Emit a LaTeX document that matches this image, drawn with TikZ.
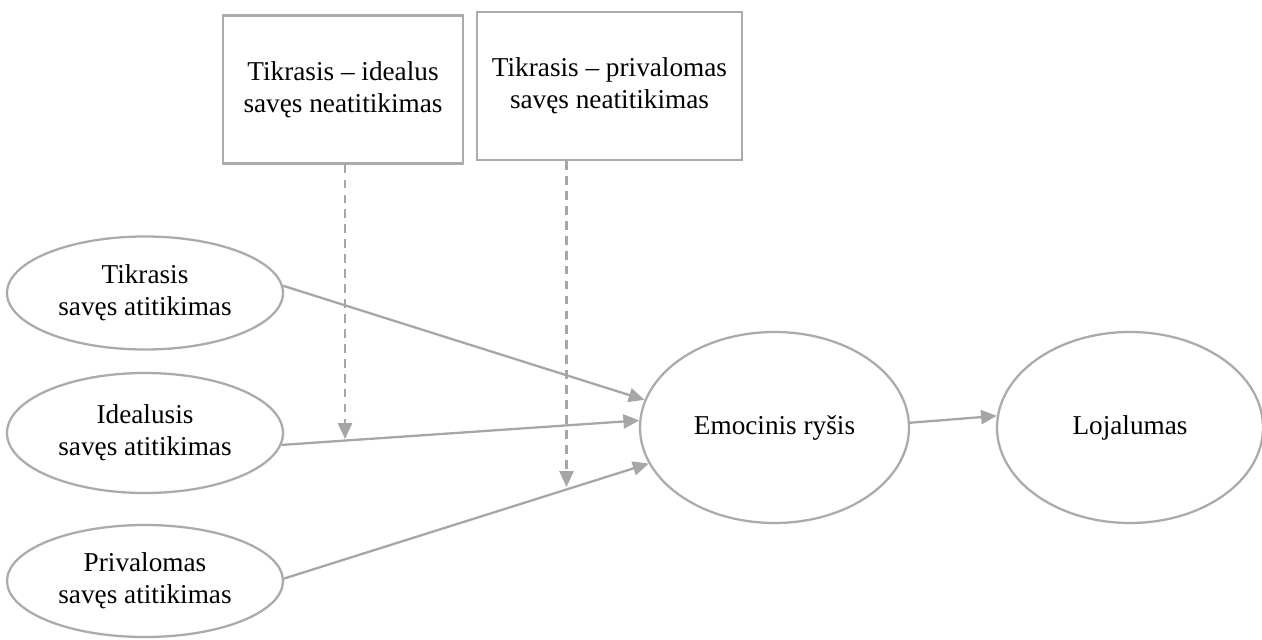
\documentclass[tikz,border=0pt]{standalone}
\usepackage{fontspec}
\setmainfont{Liberation Serif}
\usepackage{tikz}
\usetikzlibrary{arrows.meta,shapes.geometric}

\definecolor{linija}{RGB}{166,166,166}
\definecolor{kontur}{RGB}{174,170,170}

\begin{document}
\begin{tikzpicture}[
        tekstas/.style={font=\fontsize{15.5}{18.4}\selectfont, align=center, inner sep=0pt},
        dezute/.style={tekstas, draw=kontur, line width=1.3pt, rectangle, minimum height=2.96cm},
        elipse/.style={tekstas, draw=kontur, line width=1.3pt, ellipse, minimum width=5.52cm, minimum height=2.3cm},
        didele/.style={elipse, minimum width=5.38cm, minimum height=3.82cm},
        rodykle/.style={draw=linija, line width=1.3pt, -{Triangle[length=9pt,width=8pt]}},
        punktyras/.style={rodykle, dash pattern=on 5pt off 3.5pt}
    ]
        \useasboundingbox (0,0) rectangle (25.24,-12.8);

        \node[dezute, minimum width=4.8cm] (ideal) at (6.86,-1.79) {Tikrasis -- idealus\\savęs neatitikimas};
        \node[dezute, minimum width=5.3cm] (priv) at (12.19,-1.72) {Tikrasis -- privalomas\\savęs neatitikimas};

        \node[elipse, minimum height=2.26cm] (tikr) at (2.9,-5.86) {Tikrasis\\savęs atitikimas};
        \node[elipse, minimum height=2.4cm] (idea) at (2.9,-8.66) {Idealusis\\savęs atitikimas};
        \node[elipse, minimum height=2.24cm] (prival) at (2.9,-11.62) {Privalomas\\savęs atitikimas};

        \node[didele] (emoc) at (15.49,-8.55) {Emocinis ryšis};
        \node[didele, minimum width=5.32cm] (loj) at (22.6,-8.55) {Lojalumas};

        \coordinate (m1) at (6.9,-8.78);
        \coordinate (m2) at (11.33,-9.74);

        \draw[rodykle] (tikr.3) -- (emoc.168);
        \draw[rodykle] (idea.-5) -- (emoc.177);
        \draw[rodykle] (prival.1) -- (emoc.196);
        \draw[rodykle] (emoc.2) -- (loj.175);

        \draw[punktyras] (ideal.south -| m1) -- (m1);
        \draw[punktyras] (priv.south -| m2) -- (m2);
\end{tikzpicture}
\end{document}
